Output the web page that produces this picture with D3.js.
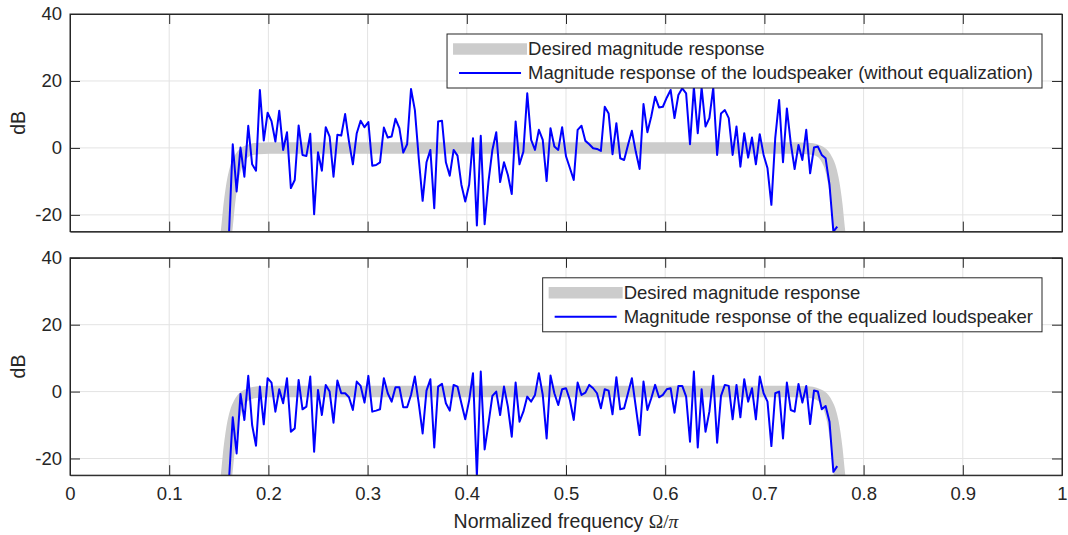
<!DOCTYPE html>
<html><head><meta charset="utf-8">
<script src="https://cdn.jsdelivr.net/npm/d3@7"></script>
<style>
body{margin:0;background:#fff}
svg{display:block}
text{font-family:"Liberation Sans",Arial,Helvetica,sans-serif;fill:#262626}
</style>
</head><body>
<svg id="chart" width="1068" height="535"></svg>
<script>
// ---------- data ----------
const binStart = 41;          // first frequency bin (normalized frequency = bin / binsPerPi)
const binsPerPi = 256;
const xTicks = [0,0.1,0.2,0.3,0.4,0.5,0.6,0.7,0.8,0.9,1];
const xTickLabels = ["0","0.1","0.2","0.3","0.4","0.5","0.6","0.7","0.8","0.9","1"];
const yTicks = [-20,0,20,40];
const yTickLabels = ["-20","0","20","40"];
const desiredFreq = [0.1515,0.156,0.1585,0.1605,0.1625,0.1645,0.1675,0.1705,0.1735,0.1775,0.1825,0.1895,0.2015,0.732,0.744,0.751,0.756,0.760,0.763,0.766,0.769,0.771,0.773,0.775,0.7775,0.782];
const desiredDb   = [-50,-30,-23,-17,-12.5,-9,-5.5,-3.5,-2.1,-1.1,-0.5,-0.15,0,0,-0.15,-0.5,-1.1,-2.1,-3.5,-5.5,-9,-12.5,-17,-23,-30,-50];
const unequalizedDb = [
 -26.5,1.1,-13,0.1,-8.6,6.6,-4.9,-6.8,17.3,2.2,10.5,8,1.9,11.1,-0.6,4.7,-12,-9.6,6.7,-2.1,
 -2.4,4.2,-19.8,-1.3,-6.8,6.2,3.4,-8.6,3.9,3.7,10.1,1.9,-4.9,4.4,8.1,6.2,7.7,-5.3,-5.1,-4.3,
 6.1,3.1,3.4,8.7,5.9,-1.4,1.1,17.6,11.3,-3.1,-15.8,-4.3,-0.6,-18,7.9,8.1,-4.3,-8.3,-0.6,-2.3,
 -11,-16,-11,2.9,-23.2,3.6,-22.8,-10,-0.6,4.7,-10.2,-4.3,-8.1,-13.8,7.9,-4.9,-1.1,16.3,2.4,-0.6,
 5.4,2.4,-9.9,5.9,0.4,-0.6,6.2,-2.5,-6,-9.6,5.4,6.6,2.1,1.1,-0.1,-0.3,-0.9,12.3,10.3,-1.9,
 7.4,-3.1,-3.6,0.9,5.1,-1.1,-6.3,13.1,4.7,9.4,15.3,12.1,12.3,15,17.3,8.9,15.8,17.8,16.3,1.1,
 18.2,4.4,18,6.4,8.9,18,-2.1,10.3,11.3,8.9,-2.1,6.4,-5.6,4.4,-2.9,3.1,-4.9,4.1,-2.1,-6.1,
 -17,3,14.3,-4.3,11.8,1.4,-6.3,0.9,-3.6,5.4,-7.6,0.1,0.4,-2.1,-3.1,-11,-25,-23.5];
const equalizedDb = [
 -27,-7.7,-18.5,-0.7,-8.5,4.7,-10,-16.2,1.5,-9.8,4,2.7,-6,0.7,-3.5,4,-12,-11,3.5,-5.3,
 -4.5,4.5,-18,0.5,-7,2,0,-9.3,3.3,-0.5,-0.5,-1.7,-5.5,3,1.7,-3.3,4.7,-6,-5.7,-5.3,
 4,-0.5,-3,1.3,1.3,-4.7,-4.7,-1,4.5,-3.5,-12.5,0.3,3.7,-16.7,1.5,2.3,-3.5,-5.7,2,1.5,
 -3.5,-8.3,-2.7,5.5,-25.3,6,-17.3,-9.5,-1.3,0,-7,1.5,-4.5,-13.5,2.7,-9,-6,-1.5,-3,-1,
 5.5,-1,-14,4.8,-0.5,-4,0.7,1,-2.5,-8.5,2.7,-1,-0.3,2,1,-0.5,-5,0.7,0.3,-6.8,
 4.3,-5.3,-5,-0.5,4,-4.5,-13,3,-5.5,-2,2,-1.7,-1,0.7,1,-6.3,1.7,1.7,-1.5,-15,
 6,-16.7,0.7,-12,-6,4.7,-15.3,-1.3,2,1.7,-8.3,2,-7.7,3.7,-3,1,-8.3,4.5,-0.5,-3,
 -16.3,-0.5,0,-14,2.7,-5.5,-6,2.3,-3.3,1.7,-9.7,0.3,0,-5.3,-4.3,-9,-24,-22.3];
const legendDesired = "Desired magnitude response";
const legendTop = "Magnitude response of the loudspeaker (without equalization)";
const legendBottom = "Magnitude response of the equalized loudspeaker";

// ---------- layout ----------
const svg = d3.select("#chart");
const left = 70, right = 1062;
const panels = [
  {top: 14, bottom: 231.6, series: unequalizedDb, legend: legendTop, xLabels: false},
  {top: 257.8, bottom: 475.2, series: equalizedDb, legend: legendBottom, xLabels: true}
];
const x = d3.scaleLinear().domain([0,1]).range([left,right]);
const freqs = d3.range(unequalizedDb.length).map(i => (binStart + i) / binsPerPi);
const gridColor = "#e3e3e3", axisColor = "#262626";
const tickFont = 18.5;

panels.forEach((p, pi) => {
  const y = d3.scaleLinear().domain([-25,40]).range([p.bottom,p.top]);
  const g = svg.append("g");
  const clipId = "clip" + pi;
  svg.append("clipPath").attr("id", clipId).append("rect")
    .attr("x", left).attr("y", p.top).attr("width", right-left).attr("height", p.bottom-p.top);

  // grid
  g.append("g").selectAll("line").data(xTicks.slice(1,-1)).join("line")
    .attr("x1", d=>x(d)).attr("x2", d=>x(d)).attr("y1", p.top).attr("y2", p.bottom)
    .attr("stroke", gridColor).attr("stroke-width", 1);
  g.append("g").selectAll("line").data(yTicks.filter(d=>d<40)).join("line")
    .attr("x1", left).attr("x2", right).attr("y1", d=>y(d)).attr("y2", d=>y(d))
    .attr("stroke", gridColor).attr("stroke-width", 1);

  // desired response
  const plot = g.append("g").attr("clip-path", `url(#${clipId})`);
  const desiredLine = d3.line().x((d,i)=>x(desiredFreq[i])).y(d=>y(d)).curve(d3.curveMonotoneX);
  plot.append("path").attr("d", desiredLine(desiredDb))
    .attr("fill","none").attr("stroke","#cccccc").attr("stroke-width",11.5)
    .attr("stroke-linejoin","round");
  // measured response
  const respLine = d3.line().x((d,i)=>x(freqs[i])).y(d=>y(d));
  plot.append("path").attr("d", respLine(p.series))
    .attr("fill","none").attr("stroke","#0000ff").attr("stroke-width",2)
    .attr("stroke-linejoin","round");

  // axes
  const axL = d3.axisLeft(y).tickValues(yTicks).tickFormat((d,i)=>yTickLabels[i])
    .tickSizeInner(-10).tickSizeOuter(0).tickPadding(8);
  const gl = g.append("g").attr("transform",`translate(${left},0)`).call(axL);
  const axR = d3.axisRight(y).tickValues(yTicks).tickFormat("").tickSizeInner(-10).tickSizeOuter(0);
  const gr = g.append("g").attr("transform",`translate(${right},0)`).call(axR);
  const axB = d3.axisBottom(x).tickValues(xTicks).tickFormat((d,i)=>p.xLabels ? xTickLabels[i] : "")
    .tickSizeInner(-10).tickSizeOuter(0).tickPadding(12);
  const gb = g.append("g").attr("transform",`translate(0,${p.bottom})`).call(axB);
  const axT = d3.axisTop(x).tickValues(xTicks).tickFormat("").tickSizeInner(-10).tickSizeOuter(0);
  const gt = g.append("g").attr("transform",`translate(0,${p.top})`).call(axT);
  [gl,gr,gb,gt].forEach(a=>{
    a.select(".domain").attr("stroke", axisColor).attr("stroke-width",1);
    a.selectAll(".tick line").attr("stroke", axisColor).attr("stroke-width",1);
    a.selectAll(".tick text").attr("font-size", tickFont).attr("fill", axisColor)
      .attr("font-family",'"Liberation Sans",Arial,sans-serif');
  });
  g.append("rect").attr("x",left).attr("y",p.top).attr("width",right-left).attr("height",p.bottom-p.top)
    .attr("fill","none").attr("stroke",axisColor).attr("stroke-width",1);

  // y label
  g.append("text").attr("transform",`translate(18,${(p.top+p.bottom)/2}) rotate(-90)`)
    .attr("text-anchor","middle").attr("dy","0.35em").attr("font-size",19.5).text("dB");

  // legend
  const lg = g.append("g");
  const rowY1 = p.top + 35, rowY2 = p.top + 59;
  const t1 = lg.append("text").attr("y", rowY1).attr("dy","0.35em").attr("font-size",18.5).text(legendDesired);
  const t2 = lg.append("text").attr("y", rowY2).attr("dy","0.35em").attr("font-size",18.5).text(p.legend);
  const tw = Math.max(t1.node().getComputedTextLength(), t2.node().getComputedTextLength());
  const boxRight = 1042;
  const textX = boxRight - 9 - tw;
  t1.attr("x", textX); t2.attr("x", textX);
  const boxLeft = textX - 81;
  lg.insert("rect", "text").attr("x", boxLeft).attr("y", p.top + 20).attr("width", boxRight-boxLeft)
    .attr("height", 54).attr("fill","#fff").attr("stroke",axisColor).attr("stroke-width",1);
  lg.append("line").attr("x1", boxLeft+6).attr("x2", textX-1).attr("y1", rowY1).attr("y2", rowY1)
    .attr("stroke","#cccccc").attr("stroke-width",11.5);
  lg.append("line").attr("x1", boxLeft+12).attr("x2", textX-7).attr("y1", rowY2).attr("y2", rowY2)
    .attr("stroke","#0000ff").attr("stroke-width",2);
});

// x label
const xl = svg.append("text").attr("x", 566).attr("y", 528).attr("text-anchor","middle").attr("font-size",19.5);
xl.append("tspan").text("Normalized frequency ");
xl.append("tspan").attr("font-family",'"Liberation Serif","Times New Roman",serif').text("Ω/");
xl.append("tspan").attr("font-family",'"Liberation Serif","Times New Roman",serif').attr("font-style","italic").text("π");
</script>
</body></html>
